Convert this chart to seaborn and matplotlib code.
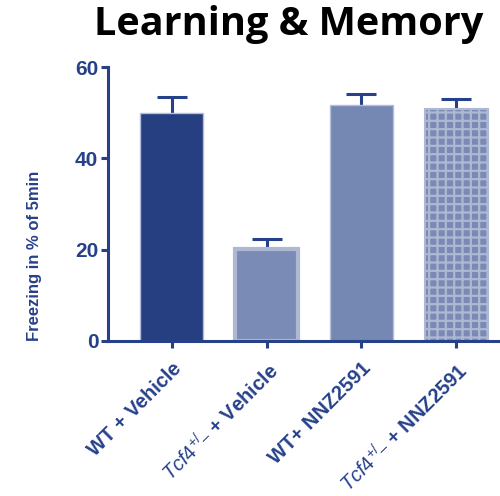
import numpy as np
import matplotlib
matplotlib.use("Agg")
import matplotlib.pyplot as plt
import seaborn as sns

# --- data ---
groups = ["WT + Vehicle", "Tcf4 + Vehicle", "WT + NNZ2591", "Tcf4 + NNZ2591"]
tick_labels = ["WT + Vehicle", r"$Tcf4^{+/\_}$ + Vehicle",
               "WT+ NNZ2591", r"$Tcf4^{+/\_}$ + NNZ2591"]
freezing = [49.9, 20.1, 51.7, 50.9]
sem = [3.5, 2.3, 2.4, 2.2]

NAVY = "#26418A"
fills = ["#263F80", "#7A8BB5", "#7587B3", "#7A8AB5"]
edges = ["#B5BED8", "#AEB8D3", "#B5BED8", "#AEB8D3"]

sns.set_style("white")
plt.rcParams["font.family"] = ["Liberation Sans", "DejaVu Sans"]
plt.rcParams["mathtext.fontset"] = "custom"
plt.rcParams["mathtext.it"] = "Liberation Sans:italic"
plt.rcParams["mathtext.rm"] = "Liberation Sans"
plt.rcParams["hatch.linewidth"] = 1.6

fig = plt.figure(figsize=(5, 4.96), dpi=100)
ax = fig.add_axes([0.216, 0.3125, 0.784, 0.5524])

sns.barplot(x=groups, y=freezing, hue=groups, palette=fills, legend=False,
            width=0.66, saturation=1, ax=ax, zorder=2)

for i, bar in enumerate(ax.patches):
    bar.set_edgecolor(edges[i])
    bar.set_linewidth([1.0, 3.0, 1.0, 1.5][i])
ax.patches[3].set_hatch("++")

# error bars: only the upper half shows, the lower half sits behind the bars
ax.errorbar(range(len(groups)), freezing, yerr=sem, fmt="none",
            ecolor=NAVY, elinewidth=2.2, capsize=11, capthick=2.2, zorder=1)

ax.set_ylim(0, 60)
ax.set_xlim(-0.67, 3.46)
ax.set_yticks([0, 20, 40, 60])
ax.set_xticks(range(4))
ax.set_xticklabels(tick_labels, rotation=45, ha="right", rotation_mode="anchor",
                   fontsize=14.5, fontweight="bold", color=NAVY)
for lab in ax.get_yticklabels():
    lab.set_fontsize(15)
    lab.set_fontweight("bold")
    lab.set_color(NAVY)

ax.set_ylabel("Freezing in % of 5min", fontsize=12, fontweight="bold",
              color=NAVY)
ax.yaxis.set_label_coords(-0.168, 0.31)
ax.set_xlabel("")

sns.despine(ax=ax)
for side in ["left", "bottom"]:
    ax.spines[side].set_color(NAVY)
    ax.spines[side].set_linewidth(2.2)
ax.tick_params(axis="both", colors=NAVY, width=2.2, length=5, direction="out",
               left=True, bottom=True)
ax.tick_params(axis="x", pad=8)
ax.tick_params(axis="y", pad=2)

fig.text(0.578, 0.95, "Learning & Memory", ha="center", va="center",
         fontsize=28.5, fontweight="bold", color="black",
         family=["Open Sans", "DejaVu Sans"])

fig.savefig("out.png", dpi=100)
